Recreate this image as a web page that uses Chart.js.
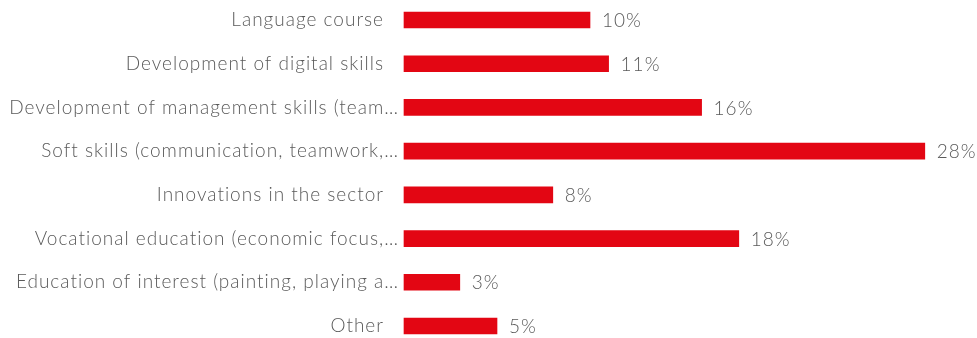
<!DOCTYPE html>
<html>
<head>
<meta charset="utf-8">
<script src="https://cdn.jsdelivr.net/npm/chart.js@4/dist/chart.umd.min.js"></script>
<style>
  html, body { margin: 0; padding: 0; background: #fff; }
  #wrap { width: 977px; height: 338px; position: relative; }
</style>
</head>
<body>
<div id="wrap"><canvas id="chart"></canvas></div>
<script>
// Training topics and the share of respondents choosing each
const categories = [
  "Language course",
  "Development of digital skills",
  "Development of management skills (team…",
  "Soft skills (communication, teamwork,…",
  "Innovations in the sector",
  "Vocational education (economic focus,…",
  "Education of interest (painting, playing a…",
  "Other"
];
const shares = [10, 11, 16, 28, 8, 18, 3, 5];
const valueLabels = ["10%", "11%", "16%", "28%", "8%", "18%", "3%", "5%"];

const BAR_RED = "#e30613";
const TEXT_GREY = "#5a5a5a";
const LABEL_FONT = "300 19px Lato, 'Open Sans', sans-serif";
const LABEL_SPACING = "1px";

// Category names drawn to the left of the plot, right-aligned
const categoryLabels = {
  id: "categoryLabels",
  afterDraw(chart) {
    const { ctx, chartArea, scales } = chart;
    ctx.save();
    ctx.font = LABEL_FONT;
    ctx.letterSpacing = LABEL_SPACING;
    ctx.fillStyle = TEXT_GREY;
    ctx.textAlign = "right";
    ctx.textBaseline = "middle";
    categories.forEach((name, i) => {
      const y = scales.y.getPixelForValue(i);
      const gap = name.endsWith("…") ? 5 : 20;
      ctx.fillText(name, chartArea.left - gap, y);
    });
    ctx.restore();
  }
};

// Percentage text after the end of each bar
const valueTags = {
  id: "valueTags",
  afterDatasetsDraw(chart) {
    const { ctx } = chart;
    const meta = chart.getDatasetMeta(0);
    ctx.save();
    ctx.font = LABEL_FONT;
    ctx.letterSpacing = LABEL_SPACING;
    ctx.fillStyle = TEXT_GREY;
    ctx.textAlign = "left";
    ctx.textBaseline = "middle";
    meta.data.forEach((bar, i) => {
      ctx.fillText(valueLabels[i], bar.x + 12, bar.y + 1);
    });
    ctx.restore();
  }
};

new Chart(document.getElementById("chart"), {
  type: "bar",
  data: {
    labels: categories,
    datasets: [{
      data: shares,
      backgroundColor: BAR_RED,
      borderWidth: 0,
      barThickness: 16,
      clip: false
    }]
  },
  options: {
    indexAxis: "y",
    responsive: true,
    maintainAspectRatio: false,
    animation: false,
    layout: { padding: { left: 404, right: 15, top: 20, bottom: 12 } },
    plugins: { legend: { display: false }, tooltip: { enabled: false } },
    scales: {
      x: { min: 0, max: 30, display: false, grid: { display: false } },
      y: { offset: false, display: false, grid: { display: false } }
    }
  },
  plugins: [categoryLabels, valueTags]
});
</script>
</body>
</html>
